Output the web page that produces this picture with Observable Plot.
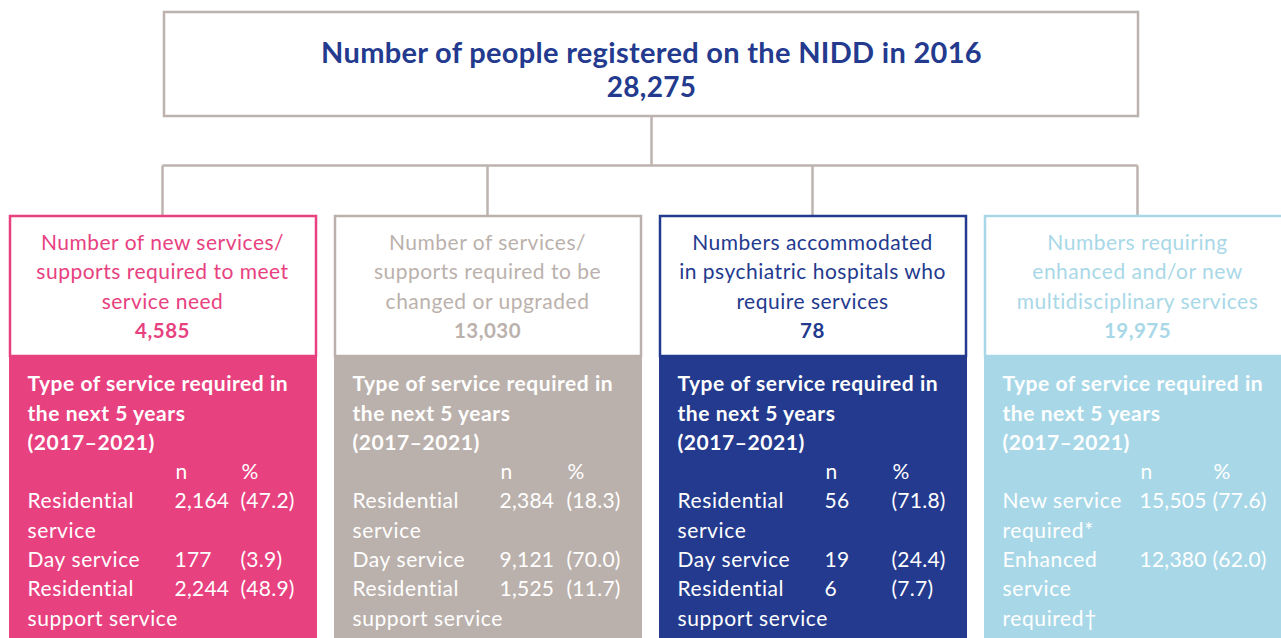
<!DOCTYPE html>
<html><head><meta charset="utf-8">
<script src="https://cdn.jsdelivr.net/npm/d3@7"></script>
<script src="https://cdn.jsdelivr.net/npm/@observablehq/plot@0.6"></script>
<style>body{margin:0;background:#fff;} svg{display:block}</style>
</head><body><div id="chart"></div>
<script>
// ---- data ----
const topTitle = "Number of people registered on the NIDD in 2016";
const topTotal = 28275;
const panelTitles = [
  "Number of new services/\nsupports required to meet\nservice need",
  "Number of services/\nsupports required to be\nchanged or upgraded",
  "Numbers accommodated\nin psychiatric hospitals who\nrequire services",
  "Numbers requiring\nenhanced and/or new\nmultidisciplinary services"
];
const panelTotals = [4585, 13030, 78, 19975];
const panelColors = ["#e8417f", "#bbb1ac", "#233a8e", "#a8d8e7"];
const bodyHeading = "Type of service required in\nthe next 5 years\n(2017–2021)";
const serviceLabels = [
  ["Residential\nservice", "Day service", "Residential\nsupport service"],
  ["Residential\nservice", "Day service", "Residential\nsupport service"],
  ["Residential\nservice", "Day service", "Residential\nsupport service"],
  ["New service\nrequired*", "Enhanced\nservice\nrequired†"]
];
const serviceN = [[2164, 177, 2244], [2384, 9121, 1525], [56, 19, 6], [15505, 12380]];
const servicePct = [[47.2, 3.9, 48.9], [18.3, 70.0, 11.7], [71.8, 24.4, 7.7], [77.6, 62.0]];

// ---- layout ----
const W = 1281, H = 638;
const FONT = "Lato";
const lineColor = "#bcb3ae";
const panelLeft = i => 10 + i * 325;
const panelW = 306;
const panelCx = i => panelLeft(i) + panelW / 2 - 1;
const nCol = [164, 164, 164, 154];
const pctCol = [230, 231, 231, 227];
const fmtN = d3.format(",");
const fmtP = d => `(${d3.format(".1f")(d)})`;

const panels = panelTitles.map((t, i) => ({i, title: t, total: panelTotals[i], color: panelColors[i]}));

// connectors
const links = [
  {x1: 651, y1: 116, x2: 651, y2: 165},
  {x1: panelCx(0), y1: 165, x2: panelCx(3), y2: 165},
  ...panels.map(p => ({x1: panelCx(p.i), y1: 165, x2: panelCx(p.i), y2: 216}))
];

// header text lines
const headerLines = [];
panels.forEach(p => {
  p.title.split("\n").forEach((s, j) => headerLines.push({i: p.i, text: s, y: 243 + j * 29.2, bold: false, color: p.color}));
  headerLines.push({i: p.i, text: fmtN(p.total), y: 243 + 3 * 29.2, bold: true, color: p.color});
});

// body text
const step = 29.3, y0 = 384;
const bodyText = [];
panels.forEach(p => {
  const L = panelLeft(p.i);
  bodyHeading.split("\n").forEach((s, k) => bodyText.push({x: L + 17, y: y0 + k * step, text: s, kind: "bold"}));
  bodyText.push({x: L + nCol[p.i] + 1, y: y0 + 3 * step, text: "n", kind: "label"});
  bodyText.push({x: L + pctCol[p.i] + 1, y: y0 + 3 * step, text: "%", kind: "label"});
  let k = 4;
  serviceLabels[p.i].forEach((lab, r) => {
    bodyText.push({x: L + nCol[p.i], y: y0 + k * step, text: fmtN(serviceN[p.i][r]), kind: "num"});
    bodyText.push({x: L + pctCol[p.i], y: y0 + k * step, text: fmtP(servicePct[p.i][r]), kind: "num"});
    lab.split("\n").forEach(s => { bodyText.push({x: L + 17, y: y0 + k * step, text: s, kind: "label"}); k++; });
  });
});

const plot = Plot.plot({
  width: W, height: H,
  margin: 0,
  x: {domain: [0, W], range: [0, W], axis: null},
  y: {domain: [0, H], range: [0, H], axis: null},
  color: {type: "identity"},
  style: {fontFamily: FONT, background: "#fff"},
  marks: [
    Plot.link(links, {x1: "x1", y1: "y1", x2: "x2", y2: "y2", stroke: lineColor, strokeWidth: 2.5}),
    Plot.rect([topTitle], {x1: 164, x2: 1138, y1: 12, y2: 116, fill: "#fff", stroke: lineColor, strokeWidth: 2.5}),
    Plot.text([topTitle], {x: 651, y: 53, text: d => d, fill: "#233a8e", fontSize: 29, fontWeight: "bold", fontFamily: FONT}),
    Plot.text([topTotal], {x: 651, y: 88, text: d => fmtN(d), fill: "#233a8e", fontSize: 28, fontWeight: "bold", fontFamily: FONT}),
    Plot.rect(panels, {x1: p => panelLeft(p.i) - 1, x2: p => panelLeft(p.i) + panelW + 1, y1: 355, y2: 660, fill: "color"}),
    Plot.rect(panels, {x1: p => panelLeft(p.i), x2: p => panelLeft(p.i) + panelW, y1: 216, y2: 356, fill: "#fff", stroke: "color", strokeWidth: 2.5}),
    Plot.text(headerLines.filter(d => !d.bold), {x: d => panelCx(d.i), y: "y", text: "text", fill: "color", fontSize: 21, fontFamily: FONT}),
    Plot.text(headerLines.filter(d => d.bold), {x: d => panelCx(d.i), y: "y", text: "text", fill: "color", fontSize: 20.5, fontWeight: "bold", fontFamily: FONT}),
    Plot.text(bodyText.filter(d => d.kind === "bold"), {x: "x", y: "y", text: "text", fill: "#fff", fontSize: 21, fontWeight: "bold", textAnchor: "start", fontFamily: FONT}),
    Plot.text(bodyText.filter(d => d.kind === "label"), {x: "x", y: "y", text: "text", fill: "#fff", fontSize: 21, textAnchor: "start", fontFamily: FONT}),
    Plot.text(bodyText.filter(d => d.kind === "num"), {x: "x", y: "y", text: "text", fill: "#fff", fontSize: 21, textAnchor: "start", fontFamily: FONT})
  ]
});
// letter spacing for the seven text marks, in mark order
const spacing = ["0.3px", "0.3px", "0.5px", "0.5px", "0.55px", "0.6px", "0.25px"];
const svg = plot.tagName.toLowerCase() === "svg" ? plot : plot.querySelector("svg");
const textGroups = Array.from(svg.children).filter(g => g.querySelector && g.querySelector("text") && !g.querySelector("rect, path, line"));
textGroups.forEach((g, i) => { if (spacing[i]) g.style.letterSpacing = spacing[i]; });
document.getElementById("chart").appendChild(plot);
</script>
</body></html>
